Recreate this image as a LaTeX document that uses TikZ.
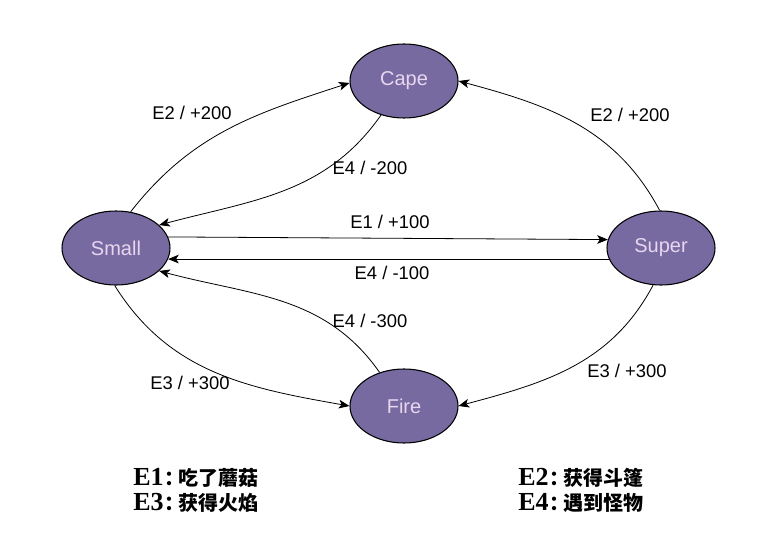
\documentclass[tikz,border=0pt]{standalone}
\usepackage{fontspec}
\setmainfont{Liberation Sans}
\newfontfamily\legendlatin{Liberation Serif}[Scale=1.3]
\newfontfamily\cjk{Noto Sans CJK SC}
\usetikzlibrary{positioning, arrows.meta, shapes.geometric}
\definecolor{modefill}{RGB}{118,106,160}
\definecolor{modetext}{RGB}{232,214,240}
\tikzset{
	mode/.style={ellipse, draw=black, line width=0.8pt, fill=modefill, text=modetext,
		minimum width=81pt, minimum height=55.5pt, inner sep=0pt, font=\fontsize{15}{18}\selectfont},
	lbl/.style={font=\fontsize{13.8}{16}\selectfont, inner sep=1pt},
	legend/.style={anchor=west, inner sep=0pt, font=\fontsize{15}{18}\selectfont\bfseries},
	trans/.style={-{Stealth[length=8pt, width=6.5pt, inset=2pt]}, line width=0.6pt}
}
\newcommand{\ev}[2]{{\legendlatin #1}\hspace{1pt}{\cjk ：}\hspace{-5pt}{\cjk #2}}
\begin{document}
\begin{tikzpicture}[x=0.75pt, y=0.75pt]
		\useasboundingbox (0,0) rectangle (764,551);
		
		%Nodes
		\node (Small) at (116,303) [mode]{Small};
		\node (Cape) at (404,470) [mode]{Cape};
		\node (Super) at (661,303) [mode]{Super};
		\node (Fire) at (404,145) [mode]{Fire};
		
		%Labels
		\node (capeIn) at (192,438) [lbl]{E2 / +200};
		\node (capeOut) at (370,383) [lbl]{E4 / -200};
		\node (superIn) at (390,329) [lbl]{E1 / +100};
		\node (superOut) at (392,278) [lbl]{E4 / -100};
		\node (superCape) at (630,436) [lbl]{E2 / +200};
		\node (fireIn) at (190,168) [lbl]{E3 / +300};
		\node (fireOut) at (370,230) [lbl]{E4 / -300};
		\node (superFire) at (627,180) [lbl]{E3 / +300};
		
		%Legend
		\node (ev1) at (133,73) [legend]{\ev{E1}{吃了蘑菇}};
		\node (ev3) at (133,48) [legend]{\ev{E3}{获得火焰}};
		\node (ev2) at (518,73) [legend]{\ev{E2}{获得斗篷}};
		\node (ev4) at (518,48) [legend]{\ev{E4}{遇到怪物}};
		
		%Links
		\draw[trans] (Small.68) to [out=52, in=198] (Cape.182);
		\draw[trans] (Cape.236) to [out=235, in=15] (Small.28);
		\draw[trans] (Small.12) -- (Super.171);
		\draw[trans] (Super.192) -- (Small.348);
		\draw[trans] (Super.92) to [out=118, in=-15] (Cape.0);
		\draw[trans] (Small.268) to [out=-58, in=170] (Fire.180);
		\draw[trans] (Fire.126) to [out=125, in=-15] (Small.332);
		\draw[trans] (Super.258) to [out=-118, in=15] (Fire.0);
		
\end{tikzpicture}
\end{document}
